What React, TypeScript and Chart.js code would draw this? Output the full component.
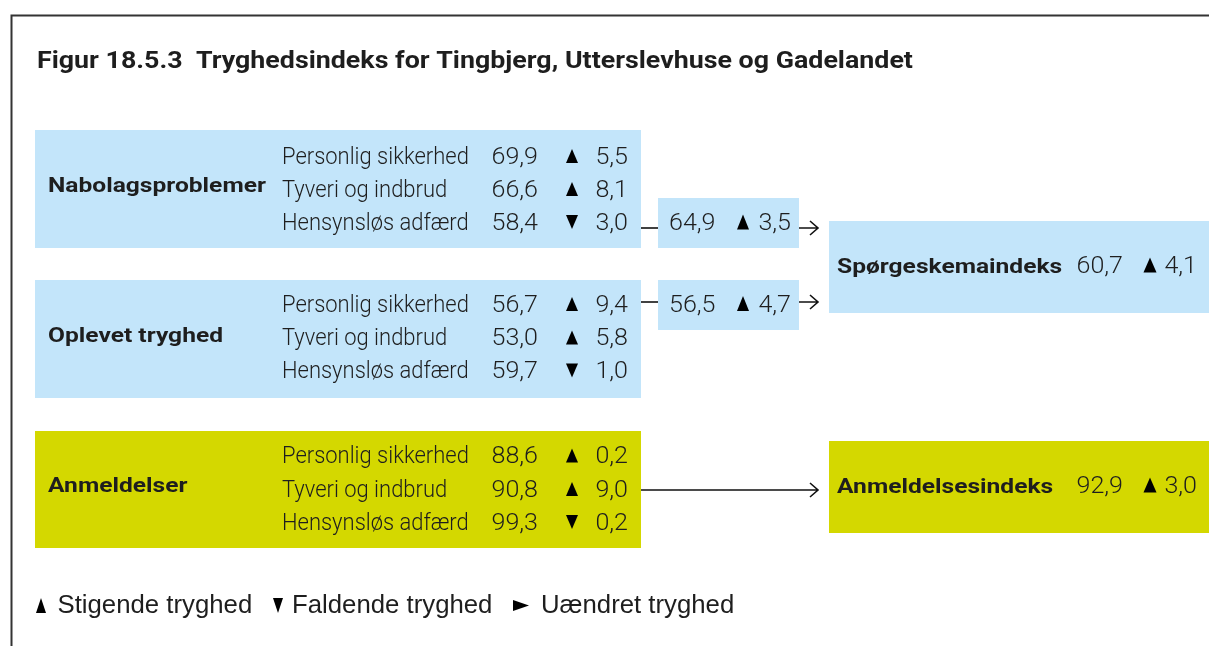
import React, { useEffect, useRef } from 'react';
import { Chart, registerables } from 'chart.js';

Chart.register(...registerables);

// ---------- DATA ----------
const titleText = 'Figur 18.5.3  Tryghedsindeks for Tingbjerg, Utterslevhuse og Gadelandet';
const groupLabels = ['Nabolagsproblemer', 'Oplevet tryghed', 'Anmeldelser'];
const itemLabels = ['Personlig sikkerhed', 'Tyveri og indbrud', 'Hensynsløs adfærd'];
const nabolagValues = [69.9, 66.6, 58.4];
const nabolagChanges = [5.5, 8.1, -3.0];
const oplevetValues = [56.7, 53.0, 59.7];
const oplevetChanges = [9.4, 5.8, -1.0];
const anmeldValues = [88.6, 90.8, 99.3];
const anmeldChanges = [0.2, 9.0, -0.2];
const subIndexValues = [64.9, 56.5];
const subIndexChanges = [3.5, 4.7];
const indexLabels = ['Spørgeskemaindeks', 'Anmeldelsesindeks'];
const indexValues = [60.7, 92.9];
const indexChanges = [4.1, 3.0];
const legendLabels = ['Stigende tryghed', 'Faldende tryghed', 'Uændret tryghed'];

// ---------- STYLE / LAYOUT ----------
const W = 1209;
const H = 646;
const BLUE = 'rgb(195,229,250)';
const YELLOW = 'rgb(212,216,0)';
const TEXT = '#1e1e1e';
const ITEM_FONT = { font: '300 23px Roboto, "Liberation Sans", sans-serif', sx: 0.955 };
const NUM_FONT = { font: '300 23px Roboto, "Liberation Sans", sans-serif', sx: 1.09 };
const BOLD_FONT = { font: 'bold 21px Roboto, "Liberation Sans", sans-serif', sx: 1.17 };
const TITLE_FONT = { font: 'bold 23px Roboto, "Liberation Sans", sans-serif', sx: 1.165 };
const LEGEND_FONT = { font: '25px "Liberation Sans", Roboto, sans-serif', sx: 1.03 };

const groupBoxes = [
  { x0: 35, y0: 130, x1: 641, y1: 248, color: BLUE, labelY: 192, rows: [163.5, 196.5, 229.5] },
  { x0: 35, y0: 280, x1: 641, y1: 398, color: BLUE, labelY: 341.5, rows: [311.5, 345, 378] },
  { x0: 35, y0: 431, x1: 641, y1: 548, color: YELLOW, labelY: 491.5, rows: [463, 496.5, 529.5] },
];
const subBoxes = [
  { x0: 658, y0: 198, x1: 799, y1: 248, baseline: 230, lineY: 228 },
  { x0: 658, y0: 280, x1: 799, y1: 330, baseline: 311.5, lineY: 302 },
];
const indexBoxes = [
  { x0: 829, y0: 221, x1: 1212, y1: 313, color: BLUE, baseline: 273 },
  { x0: 829, y0: 441, x1: 1212, y1: 533, color: YELLOW, baseline: 493 },
];

const fmt = (v: number) => Math.abs(v).toFixed(1).replace('.', ',');

const diagramPlugin = {
  id: 'diagram',
  afterDatasetsDraw(chart: any) {
    const ctx: CanvasRenderingContext2D = chart.ctx;
    const xs = chart.scales.x;
    const ys = chart.scales.y;
    const X = (v: number) => xs.getPixelForValue(v);
    const Y = (v: number) => ys.getPixelForValue(v);

    ctx.save();
    const rect = (x0: number, y0: number, x1: number, y1: number, color: string) => {
      ctx.fillStyle = color;
      ctx.fillRect(X(x0), Y(y0), X(x1) - X(x0), Y(y1) - Y(y0));
    };
    const txt = (
      s: string,
      x: number,
      y: number,
      f: { font: string; sx: number },
      align: CanvasTextAlign = 'left'
    ) => {
      ctx.save();
      ctx.font = f.font;
      ctx.fillStyle = TEXT;
      ctx.textAlign = align;
      ctx.textBaseline = 'alphabetic';
      ctx.translate(X(x), Y(y));
      ctx.scale(f.sx, 1);
      ctx.fillText(s, 0, 0);
      ctx.restore();
    };
    const tri = (cx: number, base: number, up: boolean, w: number, h: number) => {
      ctx.fillStyle = '#000';
      ctx.beginPath();
      if (up) {
        ctx.moveTo(X(cx - w / 2), Y(base));
        ctx.lineTo(X(cx + w / 2), Y(base));
        ctx.lineTo(X(cx), Y(base - h));
      } else {
        ctx.moveTo(X(cx - w / 2), Y(base - h));
        ctx.lineTo(X(cx + w / 2), Y(base - h));
        ctx.lineTo(X(cx), Y(base));
      }
      ctx.closePath();
      ctx.fill();
    };
    const line = (x0: number, x1: number, y: number, head: boolean) => {
      ctx.strokeStyle = '#111';
      ctx.lineWidth = 1.6;
      ctx.beginPath();
      ctx.moveTo(X(x0), Y(y));
      ctx.lineTo(X(x1), Y(y));
      if (head) {
        ctx.moveTo(X(x1 - 8), Y(y - 7));
        ctx.lineTo(X(x1), Y(y));
        ctx.lineTo(X(x1 - 8), Y(y + 7));
      }
      ctx.stroke();
    };

    // frame
    ctx.strokeStyle = '#333';
    ctx.lineWidth = 2;
    ctx.beginPath();
    ctx.moveTo(X(11.5), Y(H));
    ctx.lineTo(X(11.5), Y(15.5));
    ctx.lineTo(X(W), Y(15.5));
    ctx.stroke();

    // title
    txt(titleText, 37, 68, TITLE_FONT);

    // group boxes
    const groupValues = [nabolagValues, oplevetValues, anmeldValues];
    const groupChanges = [nabolagChanges, oplevetChanges, anmeldChanges];
    groupBoxes.forEach((b, g) => {
      rect(b.x0, b.y0, b.x1, b.y1, b.color);
      txt(groupLabels[g], 48, b.labelY, BOLD_FONT);
      itemLabels.forEach((it, i) => {
        const y = b.rows[i];
        txt(it, 282, y, ITEM_FONT);
        txt(fmt(groupValues[g][i]), 538, y, NUM_FONT, 'right');
        tri(572, y - 0.5, groupChanges[g][i] >= 0, 12, 14);
        txt(fmt(groupChanges[g][i]), 628, y, NUM_FONT, 'right');
      });
    });

    // sub-index boxes
    subBoxes.forEach((b, i) => {
      rect(b.x0, b.y0, b.x1, b.y1, BLUE);
      txt(fmt(subIndexValues[i]), 669, b.baseline, NUM_FONT);
      tri(743, b.baseline - 0.5, subIndexChanges[i] >= 0, 12, 15);
      txt(fmt(subIndexChanges[i]), 791, b.baseline, NUM_FONT, 'right');
      line(641, 658, b.lineY, false);
      line(799, 818, b.lineY, true);
    });

    // index boxes
    indexBoxes.forEach((b, i) => {
      rect(b.x0, b.y0, b.x1, b.y1, b.color);
      txt(indexLabels[i], 837, b.baseline, BOLD_FONT);
      txt(fmt(indexValues[i]), 1123, b.baseline, NUM_FONT, 'right');
      tri(1150, b.baseline - 0.5, indexChanges[i] >= 0, 13, 15);
      txt(fmt(indexChanges[i]), 1197, b.baseline, NUM_FONT, 'right');
    });
    line(641, 818, 490, true);

    // legend
    const ly = 613;
    tri(41, ly, true, 10, 15);
    txt(legendLabels[0], 57.5, ly, LEGEND_FONT);
    tri(278, ly, false, 10, 15);
    txt(legendLabels[1], 292, ly, LEGEND_FONT);
    ctx.fillStyle = '#000';
    ctx.beginPath();
    ctx.moveTo(X(513), Y(600));
    ctx.lineTo(X(529), Y(605.5));
    ctx.lineTo(X(513), Y(611));
    ctx.closePath();
    ctx.fill();
    txt(legendLabels[2], 541, ly, LEGEND_FONT);

    ctx.restore();
  },
};

export default function App() {
  const ref = useRef<HTMLCanvasElement | null>(null);
  useEffect(() => {
    if (!ref.current) return;
    const chart = new Chart(ref.current, {
      type: 'scatter',
      data: { datasets: [{ data: [], showLine: false }] },
      options: {
        animation: false,
        responsive: false,
        maintainAspectRatio: false,
        layout: { padding: 0 },
        plugins: { legend: { display: false }, tooltip: { enabled: false } },
        scales: {
          x: { type: 'linear', min: 0, max: W, display: false },
          y: { type: 'linear', min: 0, max: H, reverse: true, display: false },
        },
      },
      plugins: [diagramPlugin],
    });
    return () => chart.destroy();
  }, []);
  return (
    <div style={{ position: 'fixed', left: 0, top: 0, width: W, height: H, background: '#fff' }}>
      <canvas ref={ref} width={W} height={H} style={{ display: 'block' }} />
    </div>
  );
}
